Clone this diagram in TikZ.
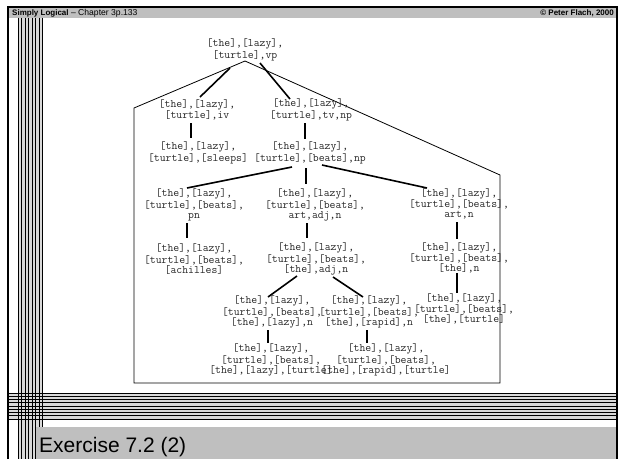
\documentclass[tikz,border=0pt]{standalone}
\usepackage{fontspec}
\setsansfont{Liberation Sans}
\tikzset{
    TN/.style ={align=center, inner sep=0pt, text=black!85, font=\ttfamily\fontsize{11.4}{10}\selectfont},
    ED/.style ={line width=1.6pt},
    VL/.style ={line width=1pt},
    BAR/.style ={fill=gray!50}}

\begin{document}
\begin{tikzpicture}[x=1pt,y=-1pt]
        \useasboundingbox (0,0) rectangle (624,459);
        % slide frame
        \fill[BAR] (9,8) rectangle (616,17.5);
        \fill[gray!30] (18,17.5) rectangle (43,459);
        \fill[gray!30] (8,393) rectangle (617,419);
        \foreach \i in {0,...,7}{
        \draw[VL] ({18+3.5*\i},17.5) -- ({18+3.5*\i},459);}
        \foreach \j in {0,...,8}{
        \draw[VL] (8,{393+3.25*\j}) -- (617,{393+3.25*\j});}
        \fill[BAR] (36,427) rectangle (616,459);
        \draw[line width=1.5pt] (8,459) -- (8,7) -- (617,7) -- (617,459);
        \node[anchor=base west,inner sep=0pt,font=\sffamily] at (12,15)
            {\fontsize{8}{8}\selectfont\bfseries Simply Logical\fontsize{8.6}{8}\selectfont\mdseries{} -- Chapter 3p.133};
        \node[anchor=base east,inner sep=0pt,font=\sffamily\bfseries\fontsize{8}{8}\selectfont] at (614,15)
            {\textcopyright{} Peter Flach, 2000};
        \node[anchor=base west,inner sep=0pt,font=\sffamily\fontsize{21}{21}\selectfont] at (39,452)
            {Exercise 7.2 (2)};
        % search space
        \draw[line width=0.8pt] (134,383) -- (134,108) -- (245,61) -- (500,175) -- (500,383) -- cycle;
        \node[TN] (root) at (245,50) {[the],[lazy],\\{}[turtle],vp};
        \node[TN] (iv) at (197,110) {[the],[lazy],\\{}[turtle],iv};
        \node[TN] (tvnp) at (311,110) {[the],[lazy],\\{}[turtle],tv,np};
        \node[TN] (sleeps) at (198,153) {[the],[lazy],\\{}[turtle],[sleeps]};
        \node[TN] (beatsnp) at (310,153) {[the],[lazy],\\{}[turtle],[beats],np};
        \node[TN] (pn) at (194,205) {[the],[lazy],\\{}[turtle],[beats],\\pn};
        \node[TN] (artadjn) at (315,205) {[the],[lazy],\\{}[turtle],[beats],\\art,adj,n};
        \node[TN] (artn) at (459,204) {[the],[lazy],\\{}[turtle],[beats],\\art,n};
        \node[TN] (achilles) at (194,259) {[the],[lazy],\\{}[turtle],[beats],\\{}[achilles]};
        \node[TN] (theadjn) at (316,259) {[the],[lazy],\\{}[turtle],[beats],\\{}[the],adj,n};
        \node[TN] (then) at (459,258) {[the],[lazy],\\{}[turtle],[beats],\\{}[the],n};
        \node[TN] (theturtle) at (464,309) {[the],[lazy],\\{}[turtle],[beats],\\{}[the],[turtle]};
        \node[TN] (lazyn) at (272,312) {[the],[lazy],\\{}[turtle],[beats],\\{}[the],[lazy],n};
        \node[TN] (rapidn) at (369,312) {[the],[lazy],\\{}[turtle],[beats],\\{}[the],[rapid],n};
        \node[TN] (lazyturtle) at (271,360) {[the],[lazy],\\{}[turtle],[beats],\\{}[the],[lazy],[turtle]};
        \node[TN] (rapidturtle) at (386,360) {[the],[lazy],\\{}[turtle],[beats],\\{}[the],[rapid],[turtle]};
        \draw[ED] ([shift={(-15,18)}]root.center) -- ([shift={(3,-13)}]iv.center);
        \draw[ED] ([shift={(15,13)}]root.center) -- ([shift={(-21,-11)}]tvnp.center);
        \draw[ED] ([shift={(-6,13)}]iv.center) -- ([shift={(-7,-15)}]sleeps.center);
        \draw[ED] ([shift={(-6,13)}]tvnp.center) -- ([shift={(-5,-14)}]beatsnp.center);
        \draw[ED] ([shift={(-18,14)}]beatsnp.center) -- ([shift={(-7,-17)}]pn.center);
        \draw[ED] ([shift={(-4,15)}]beatsnp.center) -- ([shift={(-9,-21)}]artadjn.center);
        \draw[ED] ([shift={(12,12)}]beatsnp.center) -- ([shift={(-32,-16)}]artn.center);
        \draw[ED] ([shift={(-7,18)}]pn.center) -- ([shift={(-7,-21)}]achilles.center);
        \draw[ED] ([shift={(-8,18)}]artadjn.center) -- ([shift={(-9,-21)}]theadjn.center);
        \draw[ED] ([shift={(-2,18)}]artn.center) -- ([shift={(-2,-19)}]then.center);
        \draw[ED] ([shift={(-19,17)}]theadjn.center) -- ([shift={(-4,-15)}]lazyn.center);
        \draw[ED] ([shift={(17,18)}]theadjn.center) -- ([shift={(-6,-15)}]rapidn.center);
        \draw[ED] ([shift={(-2,15)}]then.center) -- ([shift={(-7,-16)}]theturtle.center);
        \draw[ED] ([shift={(-4,18)}]lazyn.center) -- ([shift={(-3,-17)}]lazyturtle.center);
        \draw[ED] ([shift={(-2,18)}]rapidn.center) -- ([shift={(-19,-17)}]rapidturtle.center);
    \end{tikzpicture}
\end{document}
